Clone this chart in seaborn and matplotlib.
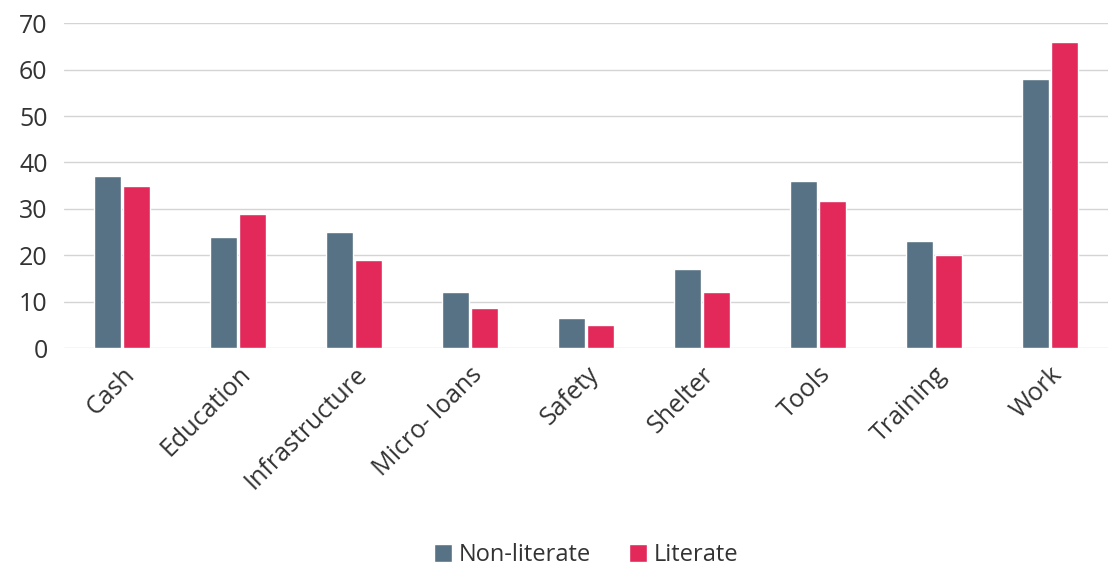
import numpy as np
import pandas as pd
import matplotlib
matplotlib.use("Agg")
import matplotlib.pyplot as plt
import seaborn as sns

# data
categories = ["Cash", "Education", "Infrastructure", "Micro- loans", "Safety",
              "Shelter", "Tools", "Training", "Work"]
non_literate = [37, 24, 25, 12, 6.5, 17, 36, 23, 58]
literate = [35, 29, 19, 8.7, 5, 12, 31.7, 20, 66]
groups = ["Non-literate", "Literate"]

df = pd.DataFrame({
    "category": categories * 2,
    "value": non_literate + literate,
    "group": [groups[0]] * len(categories) + [groups[1]] * len(categories),
})

sns.set_style("white")
plt.rcParams['font.family'] = ['Open Sans', 'DejaVu Sans']

fig = plt.figure(figsize=(11.08, 5.67), dpi=100)
ax = fig.add_axes([0.058, 0.386, 0.942, 0.573])

palette = {"Non-literate": "#587285", "Literate": "#e2295a"}
sns.barplot(data=df, x="category", y="value", hue="group", palette=palette,
            width=0.5, gap=0.08, saturation=1, ax=ax, legend=True)

ax.set_ylim(0, 70)
ax.set_xlim(-0.5, 8.5)
ax.set_yticks(range(0, 71, 10))
ax.yaxis.grid(True, color="#d4d4d4", linewidth=1)
ax.set_axisbelow(True)
for s in ax.spines.values():
    s.set_visible(False)
ax.set_xlabel("")
ax.set_ylabel("")
ax.tick_params(axis="y", length=0, pad=12, labelsize=18, labelcolor="#333333")
ax.tick_params(axis="x", length=0, pad=10, labelsize=18, labelcolor="#333333")
plt.setp(ax.get_xticklabels(), rotation=45, ha="right", rotation_mode="anchor")

ax.legend(loc="center", bbox_to_anchor=(0.5, -0.637), ncol=2, frameon=False,
          fontsize=17, handlelength=0.75, handleheight=0.75, handletextpad=0.3,
          columnspacing=1.6, labelcolor="#333333")

fig.savefig("out.png", dpi=100, facecolor="white")
